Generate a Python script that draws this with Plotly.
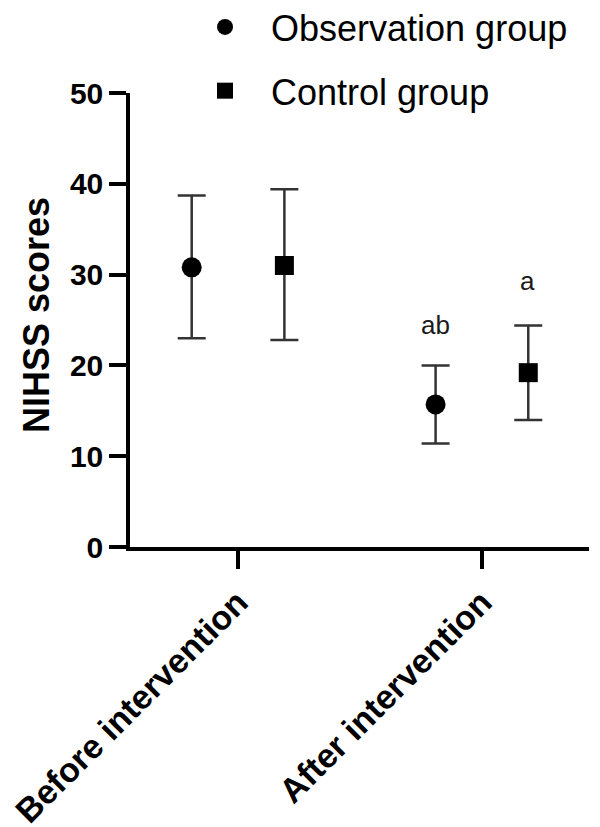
import plotly.graph_objects as go

categories = ["Before intervention", "After intervention"]
obs_mean = [30.8, 15.7]
obs_upper = [38.7, 20.0]
obs_lower = [23.0, 11.4]
ctrl_mean = [31.0, 19.2]
ctrl_upper = [39.4, 24.4]
ctrl_lower = [22.8, 14.0]
y_ticks = [0, 10, 20, 30, 40, 50]
sig_labels = ["ab", "a"]
y_title = "NIHSS scores"

FONT = "Liberation Sans, Arial, sans-serif"
EB_COLOR = "#333333"

def err(mean, up, lo):
    return ([u - m for u, m in zip(up, mean)], [m - l for m, l in zip(mean, lo)])

obs_plus, obs_minus = err(obs_mean, obs_upper, obs_lower)
ctrl_plus, ctrl_minus = err(ctrl_mean, ctrl_upper, ctrl_lower)

fig = go.Figure()
fig.add_trace(go.Scatter(
    x=categories, y=obs_mean, mode="markers", name="Observation group",
    legendgroup="obs",
    marker=dict(symbol="circle", size=20, color="black"),
    error_y=dict(type="data", symmetric=False, array=obs_plus, arrayminus=obs_minus,
                 color=EB_COLOR, thickness=2.5, width=14),
))
fig.add_trace(go.Scatter(
    x=categories, y=ctrl_mean, mode="markers", name="Control group",
    legendgroup="ctrl",
    marker=dict(symbol="square", size=19, color="black"),
    error_y=dict(type="data", symmetric=False, array=ctrl_plus, arrayminus=ctrl_minus,
                 color=EB_COLOR, thickness=2.5, width=14),
))

# significance labels above "After intervention" points
fig.add_annotation(x=categories[1], y=obs_upper[1], text=sig_labels[0], showarrow=False,
                   xshift=-46, yshift=40, font=dict(family=FONT, size=26, color="#1a1a1a"))
fig.add_annotation(x=categories[1], y=ctrl_upper[1], text=sig_labels[1], showarrow=False,
                   xshift=46, yshift=44, font=dict(family=FONT, size=26, color="#1a1a1a"))

# y-axis title
fig.add_annotation(xref="paper", yref="paper", x=0, y=0.5, xanchor="center", yanchor="middle",
                   xshift=-94, yshift=5, text=y_title, textangle=-90, showarrow=False,
                   font=dict(family=FONT, size=36, color="black", weight="bold"))

fig.update_layout(
    width=600, height=827,
    margin=dict(l=122, r=19, t=85, b=288, autoexpand=False),
    paper_bgcolor="white", plot_bgcolor="white",
    scattermode="group", scattergap=0.24,
    showlegend=True,
    legend=dict(xref="paper", yref="paper",
                x=0.1068, xanchor="left", y=1.2115, yanchor="top",
                font=dict(family=FONT, size=36, color="black"),
                itemwidth=82, tracegroupgap=14, bgcolor="rgba(0,0,0,0)"),
    xaxis=dict(
        type="category", range=[-0.443, 1.439], automargin=False,
        showline=True, linecolor="black", linewidth=3.5,
        ticks="outside", ticklen=18, tickwidth=3.5, tickcolor="black",
        tickangle=-45, showgrid=False, zeroline=False,
        tickfont=dict(family=FONT, size=34, color="black", weight="bold"),
    ),
    yaxis=dict(
        range=[0, 50], tickvals=y_ticks, automargin=False,
        showline=True, linecolor="black", linewidth=3.5,
        ticks="outside", ticklen=17, tickwidth=3.5, tickcolor="black",
        showgrid=False, zeroline=False,
        tickfont=dict(family=FONT, size=30, color="black", weight="bold"),
    ),
)

fig.write_html("out.html")
